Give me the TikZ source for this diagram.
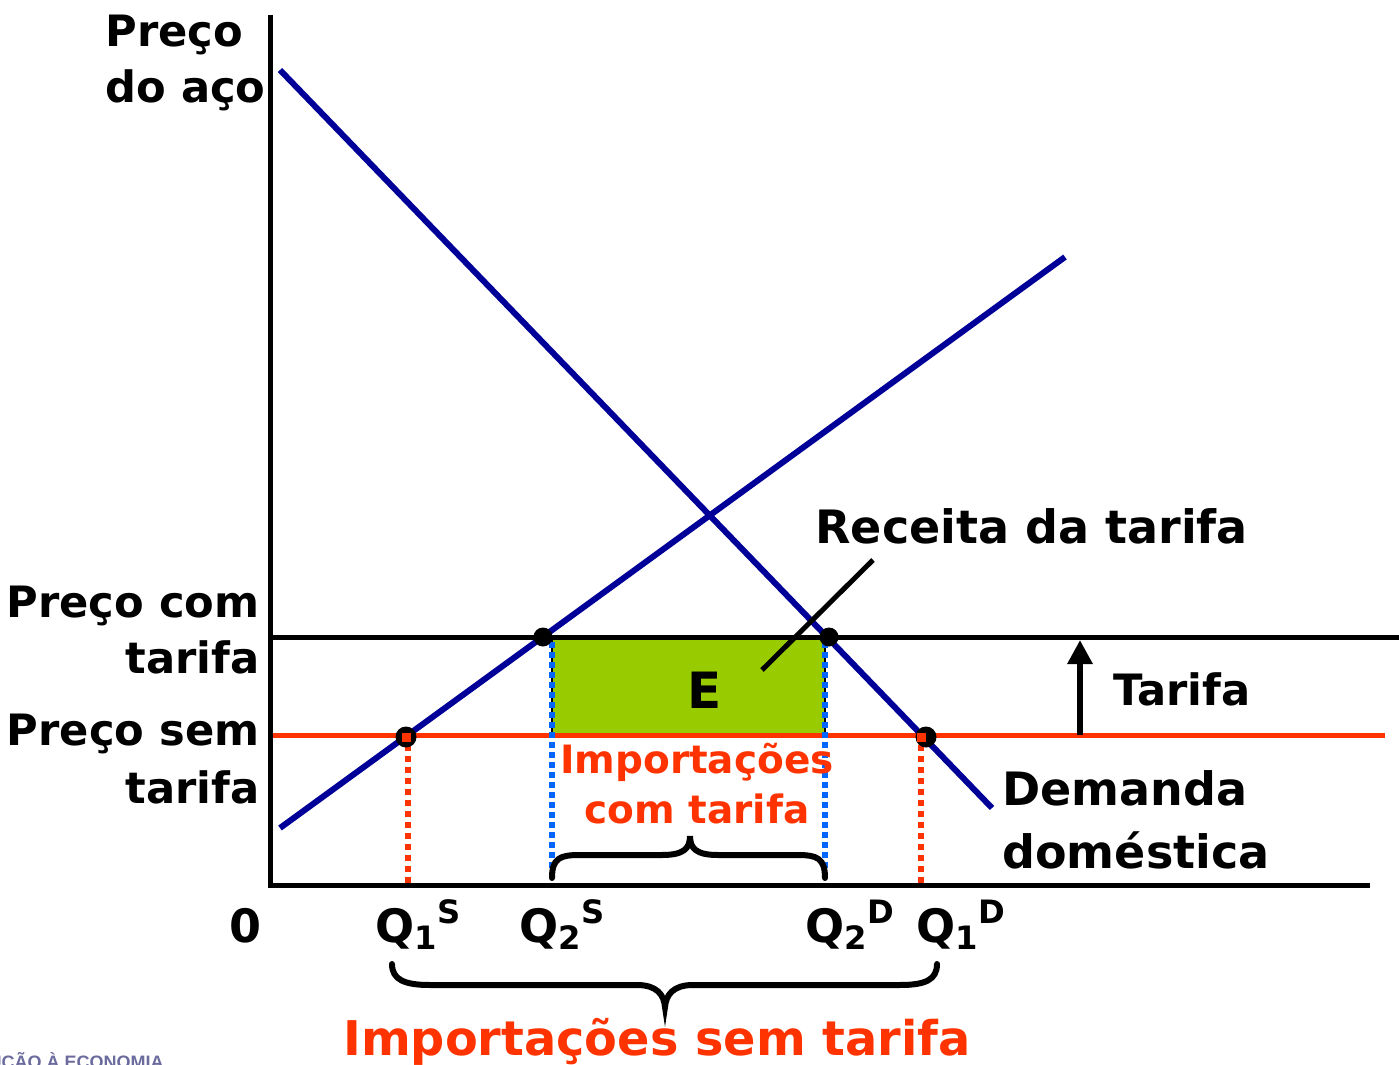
\documentclass[tikz,border=0pt]{standalone}
\usepackage{fontspec}
\setmainfont{DejaVu Sans}
\newfontfamily\footfont{Liberation Sans}
\usetikzlibrary{arrows.meta}
\definecolor{navyline}{HTML}{000099}
\definecolor{redline}{HTML}{FF3300}
\definecolor{greenfill}{HTML}{99CC00}
\definecolor{bluedot}{HTML}{0066FF}
\definecolor{footgray}{HTML}{6B6B9E}
\tikzset{
  big/.style={font=\fontsize{23}{28}\selectfont\bfseries, inner sep=0pt},
  lbig/.style={font=\fontsize{21.6}{26}\selectfont\bfseries, inner sep=0pt},
  mid/.style={font=\fontsize{19.5}{24}\selectfont\bfseries, inner sep=0pt, text=redline},
  axisline/.style={line width=2.5pt, black},
  curve/.style={line width=3pt, navyline},
  reddots/.style={line width=3pt, redline, dash pattern=on 3pt off 2.5pt},
  bluedots/.style={line width=3pt, bluedot, dash pattern=on 3pt off 2pt},
  bracestyle/.style={line width=3pt, black, line cap=round},
}
\begin{document}
\begin{tikzpicture}[x=0.5pt,y=-0.5pt]
\useasboundingbox (0,0) rectangle (1399,1065);
\clip (0,0) rectangle (1399,1065);
% coordinates
\coordinate (O) at (270,885);
\coordinate (Ytop) at (270,15);
\coordinate (Xend) at (1370,885);
\coordinate (D1) at (280,70);
\coordinate (D2) at (992,808);
\coordinate (S1) at (280,828);
\coordinate (S2) at (1065,257);
\coordinate (T1) at (270,637);
\coordinate (T2) at (1399,637);
\coordinate (W1) at (270,735);
\coordinate (W2) at (1385,735);
\coordinate (P2S) at (543,637);
\coordinate (P2D) at (829,637);
\coordinate (P1S) at (406,737);
\coordinate (P1D) at (926,737);
\coordinate (RA) at (873,560);
\coordinate (RB) at (762,670);
\coordinate (TarB) at (1080,735);
\coordinate (TarT) at (1080,640);

% green area
\fill[greenfill] (552,640) rectangle (825,735);
\draw[line width=1pt] (552,640) -- (552,735) (825,640) -- (825,735);

% horizontal price lines
\draw[line width=2.5pt] (T1) -- (T2);
\draw[line width=2.5pt, redline] (W1) -- (W2);

% axes
\draw[axisline] (Ytop) -- (O) -- (Xend);

% supply and demand
\draw[curve] (D1) -- (D2);
\draw[curve] (S1) -- (S2);

% dotted verticals
\draw[reddots] (408,745) -- (408,883);
\draw[reddots] (921,745) -- (921,883);
\draw[bluedots] (552,642) -- (552,880);
\draw[bluedots] (825,642) -- (825,880);

% points
\fill[black] (P2S) circle (9.5);
\fill[black] (P2D) circle (9.5);
\fill[black] (P1S) circle (10.5);
\fill[redline] (402,733) rectangle (411,742);
\fill[black] (P1D) circle (10.5);
\fill[redline] (917,733) rectangle (926,742);

% pointer
\draw[line width=2.5pt] (RA) -- (RB);
% tariff arrow
\draw[line width=3pt, -{Triangle[width=12pt,length=12pt]}] (TarB) -- (TarT);

% braces
\draw[bracestyle] (552,878) .. controls (552,858) and (560,855) .. (580,855) -- (662,855) .. controls (683,855) and (690,849) .. (690,836) .. controls (690,849) and (697,855) .. (718,855) -- (797,855) .. controls (817,855) and (825,858) .. (825,878);
\draw[bracestyle] (392,964) .. controls (392,980) and (405,985) .. (430,985) -- (637,985) .. controls (657,985) and (664,995) .. (665,1007) .. controls (666,995) and (673,985) .. (693,985) -- (900,985) .. controls (925,985) and (937,980) .. (937,964);

% labels
\node[lbig, anchor=base west] (lp1) at (105,47) {Preço};
\node[lbig, anchor=base west] (lp2) at (105,103) {do aço};
\node[lbig, anchor=base east] (lc1) at (260,617) {Preço com};
\node[lbig, anchor=base east] (lc2) at (260,673) {tarifa};
\node[lbig, anchor=base east] (ls1) at (260,745) {Preço sem};
\node[lbig, anchor=base east] (ls2) at (260,803) {tarifa};
\node[big, anchor=base west] (rec) at (815,543) {Receita da tarifa};
\node[lbig, anchor=base west] (tar) at (1113,705) {Tarifa};
\node[big, anchor=base west] (dm1) at (1002,805) {Demanda};
\node[big, anchor=base west] (dm2) at (1002,868) {doméstica};
\node[font=\fontsize{25}{30}\selectfont\bfseries, inner sep=0pt, anchor=base] (E) at (705,708) {E};
\node[big, anchor=base] (zero) at (246,942) {0};
\node[big, anchor=base west] (q1s) at (375,942) {Q\textsubscript{1}\textsuperscript{S}};
\node[big, anchor=base west] (q2s) at (519,942) {Q\textsubscript{2}\textsuperscript{S}};
\node[big, anchor=base west] (q2d) at (805,942) {Q\textsubscript{2}\textsuperscript{D}};
\node[big, anchor=base west] (q1d) at (916,942) {Q\textsubscript{1}\textsuperscript{D}};
\node[mid, anchor=base] (ic1) at (697,773) {Importações};
\node[mid, anchor=base] (ic2) at (697,823) {com tarifa};
\node[font=\fontsize{23.9}{28}\selectfont\bfseries, inner sep=0pt, text=redline, anchor=base] (isem) at (657,1055) {Importações sem tarifa};
\node[font=\footfont\fontsize{9}{11}\selectfont\bfseries, text=footgray, inner sep=0pt, anchor=base east] (foot) at (164,1068) {INTRODUÇÃO À ECONOMIA};
\end{tikzpicture}
\end{document}
